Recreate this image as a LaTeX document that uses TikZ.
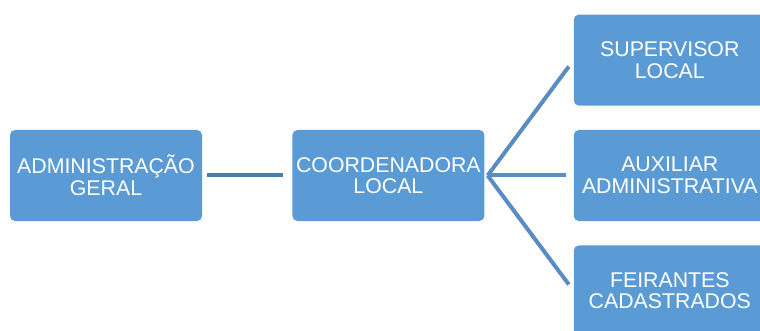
\documentclass[tikz,border=0pt]{standalone}
\usepackage{fontspec}
\setmainfont{Liberation Sans}
\usetikzlibrary{positioning}
\definecolor{boxblue}{HTML}{5B9BD5}
\definecolor{lineblue}{HTML}{5A8CC4}
\definecolor{darkline}{HTML}{4A7BAA}
\tikzset{mybox/.style={
  shape=rectangle,
  draw=none,
  fill=boxblue,
  rounded corners=5pt,
  minimum width=192pt,
  minimum height=91pt,
  inner sep=0pt,
  align=center,
  text=white,
  font=\fontsize{21.3}{21.5}\selectfont,
  }
}

\begin{document}
\begin{tikzpicture}[x=1pt,y=-1pt]
      \useasboundingbox (0,0) rectangle (760,331);
      \clip (0,0) rectangle (760,331);

      \node [mybox] (admin) at (106,175.5) {ADMINISTRAÇÃO\\GERAL};
      \node [mybox, right =90pt of admin] (coord) {COORDENADORA\\LOCAL};

      \node [mybox, right =89pt of coord] (aux) {AUXILIAR\\ADMINISTRATIVA};
      \node [mybox, above =24pt of aux] (sup) {SUPERVISOR\\LOCAL};
      \node [mybox, below =24pt of aux] (feir) {FEIRANTES\\CADASTRADOS};

      \coordinate [right =3pt of coord.east] (fan);

      \draw [darkline, line width=4pt, shorten <=5pt, shorten >=9pt] (admin.east) -- (coord.west);

      \draw [lineblue, line width=4pt, shorten >=8pt] (fan) -- (sup.west);
      \draw [lineblue, line width=4pt, shorten >=8pt] (fan) -- (aux.west);
      \draw [lineblue, line width=4pt, shorten >=8pt] (fan) -- (feir.west);
\end{tikzpicture}
\end{document}
